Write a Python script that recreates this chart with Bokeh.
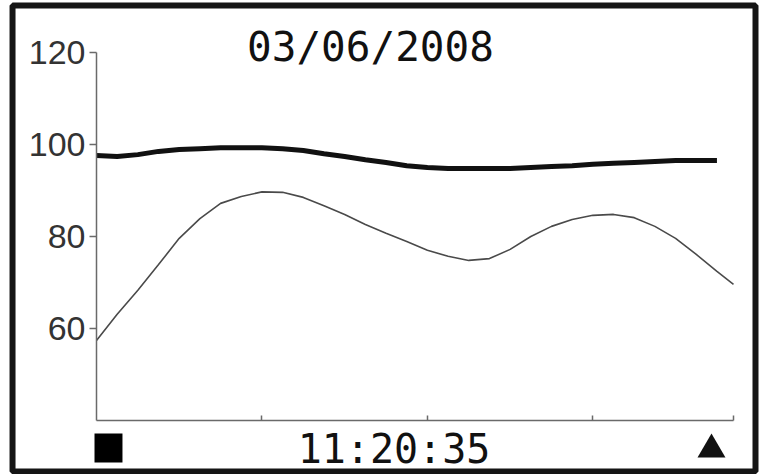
from bokeh.plotting import figure
from bokeh.models import (Range1d, FixedTicker, Label, BoxAnnotation, PolyAnnotation,
                          LinearAxis)
from bokeh.embed import file_html
from bokeh.resources import INLINE

# ---- data ----
x_thick = [0, 2.5, 5, 7.5, 10, 12.5, 15, 17.5, 20, 22.5, 25, 27.5, 30, 32.5, 35, 37.5,
           40, 42.5, 45, 47.5, 50, 52.5, 55, 57.5, 60, 62.5, 65, 67.5, 70, 72.5, 75]
y_thick = [97.6, 97.4, 97.8, 98.5, 98.9, 99.1, 99.3, 99.3, 99.3, 99.1, 98.7, 98.0, 97.4, 96.7,
           96.1, 95.4, 95.0, 94.8, 94.8, 94.8, 94.8, 95.0, 95.2, 95.4, 95.7, 95.9, 96.1, 96.3,
           96.5, 96.5, 96.5]
x_thin = [0, 2.5, 5, 7.5, 10, 12.5, 15, 17.5, 20, 22.5, 25, 27.5, 30, 32.5, 35, 37.5,
          40, 42.5, 45, 47.5, 50, 52.5, 55, 57.5, 60, 62.5, 65, 67.5, 70, 72.5, 75, 77]
y_thin = [57.4, 63.1, 68.3, 73.9, 79.6, 83.9, 87.2, 88.7, 89.7, 89.6, 88.5, 86.7, 84.8, 82.6,
          80.7, 78.9, 77.0, 75.7, 74.8, 75.2, 77.2, 80.0, 82.2, 83.7, 84.6, 84.8, 84.1, 82.2,
          79.6, 76.1, 72.4, 69.6]
y_ticks = [60, 80, 100, 120]
x_ticks = [20, 40, 60, 77]
x_bounds = (0, 77)
y_bounds = (40, 120)
date_text = "03/06/2008"
time_text = "11:20:35"

p = figure(width=761, height=474, output_backend="svg", toolbar_location=None,
           x_axis_type=None, y_axis_type=None,
           x_range=Range1d(-11.604, 80.385), y_range=Range1d(28.261, 131.304),
           min_border=0)
p.title.visible = False
p.outline_line_color = None
p.background_fill_color = "white"
p.border_fill_color = "white"

AX = "#6a6a6a"
ya = LinearAxis(fixed_location=0, bounds=y_bounds, ticker=FixedTicker(ticks=y_ticks))
ya.axis_line_color = AX
ya.axis_line_width = 1.5
ya.major_tick_line_color = AX
ya.major_tick_line_width = 1.5
ya.major_tick_out = 7
ya.major_tick_in = 0
ya.minor_tick_line_color = None
ya.major_label_standoff = 4
ya.major_label_text_font = "Liberation Sans"
ya.major_label_text_font_size = "34px"
ya.major_label_text_color = "#333333"
p.add_layout(ya, "left")

xa = LinearAxis(fixed_location=40, bounds=x_bounds, ticker=FixedTicker(ticks=x_ticks))
xa.axis_line_color = AX
xa.axis_line_width = 1.5
xa.major_tick_line_color = AX
xa.major_tick_line_width = 1.5
xa.major_tick_out = 0
xa.major_tick_in = 5
xa.minor_tick_line_color = None
xa.major_label_text_font_size = "0px"
xa.major_label_text_alpha = 0
p.add_layout(xa, "below")

p.line(x_thin, y_thin, line_color="#4a4a4a", line_width=1.6)
p.line(x_thick, y_thick, line_color="#111111", line_width=5)

# outer frame of the display
p.add_layout(BoxAnnotation(left=-10.15, right=79.66, top=130.22, bottom=28.91,
                           fill_color=None, fill_alpha=0, line_color="#151515",
                           line_width=6, line_alpha=1))

p.add_layout(Label(x=33.12, y=121.3, text=date_text, text_align="center",
                   text_baseline="middle", text_font="DejaVu Sans Mono",
                   text_font_size="41px", text_color="#111111"))
p.add_layout(Label(x=35.96, y=33.7, text=time_text, text_align="center",
                   text_baseline="middle", text_font="DejaVu Sans Mono",
                   text_font_size="40px", text_color="#111111"))

p.add_layout(BoxAnnotation(left=-0.24, right=3.14, top=37.17, bottom=30.87,
                           fill_color="black", fill_alpha=1, line_color=None))
p.add_layout(PolyAnnotation(xs=[72.65, 74.34, 76.03], ys=[31.96, 37.17, 31.96],
                            fill_color="#111111", fill_alpha=1, line_color=None))

open("out.html", "w").write(file_html(p, INLINE))
